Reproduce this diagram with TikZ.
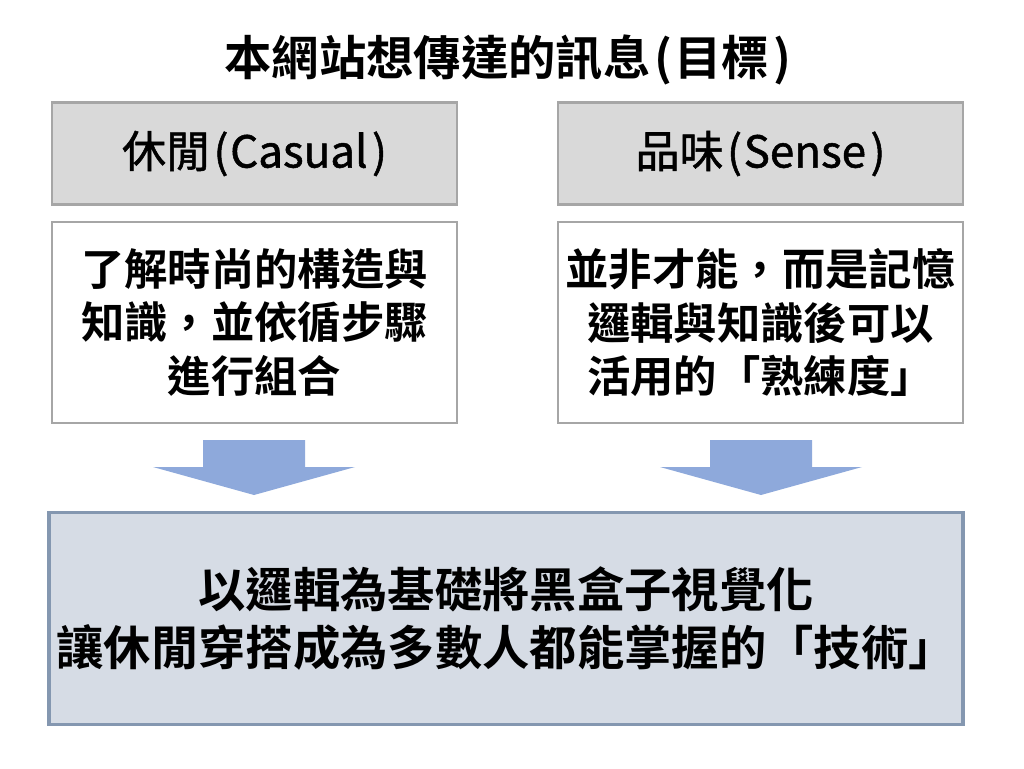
\documentclass[tikz,border=0pt]{standalone}
\usepackage{fontspec}
\setmainfont{Noto Sans CJK TC}[BoldFont={* Bold}]
\newfontfamily\headfont{Noto Sans CJK TC}[FakeBold=1.2]
\usepackage{tikz}
\definecolor{headfill}{HTML}{D9D9D9}
\definecolor{boxline}{HTML}{A6A6A6}
\definecolor{arrowblue}{HTML}{8EA9DB}
\definecolor{goalfill}{HTML}{D6DCE5}
\definecolor{goalline}{HTML}{8497B0}
\newcommand{\lp}{\hspace{0.08em}(\hspace{0.04em}}
\newcommand{\rp}{\hspace{0.1em})}
\tikzset{
  headbox/.style={draw=boxline,fill=headfill,line width=2.2pt,minimum width=303.75pt,minimum height=76.5pt,
    font=\headfont\fontsize{33}{38}\selectfont},
  textbox/.style={draw=boxline,fill=white,line width=2.2pt,minimum width=303.75pt,minimum height=150.75pt,
    align=center,font=\bfseries\fontsize{32.5}{40}\selectfont},
  goalbox/.style={draw=goalline,fill=goalfill,line width=2.6pt,minimum width=685.5pt,minimum height=159pt,
    align=center,font=\bfseries\fontsize{35.5}{44}\selectfont}
}

\begin{document}
\begin{tikzpicture}[x=0.75pt,y=-0.75pt,inner sep=0pt,outer sep=0pt]
  \useasboundingbox (0,0) rectangle (1024,768);
  \node[font=\bfseries\fontsize{35.5}{40}\selectfont] (title) at (508,60) {本網站想傳達的訊息\lp 目標\rp};

  \node[headbox] (casual) at (254.5,153.5) {休閒\lp Casual\rp};
  \node[headbox] (sense) at (760.5,153.5) {品味\lp Sense\rp};

  \node[textbox] (casualtext) at (254.5,322.5) {了解時尚的構造與\\知識，並依循步驟\\進行組合};
  \node[textbox] (sensetext) at (760.5,322.5) {並非才能，而是記憶\\邏輯與知識後可以\\活用的「熟練度」};

  % block arrows down to the goal
  \foreach \cx in {254,761}
    \fill[arrowblue] (\cx-51,440) -- (\cx+51,440) -- (\cx+51,467) -- (\cx+101,467)
      -- (\cx,495) -- (\cx-101,467) -- (\cx-51,467) -- cycle;

  \node[goalbox] (goal) at (506,618.5) {以邏輯為基礎將黑盒子視覺化\\讓休閒穿搭成為多數人都能掌握的「技術」};
\end{tikzpicture}
\end{document}
